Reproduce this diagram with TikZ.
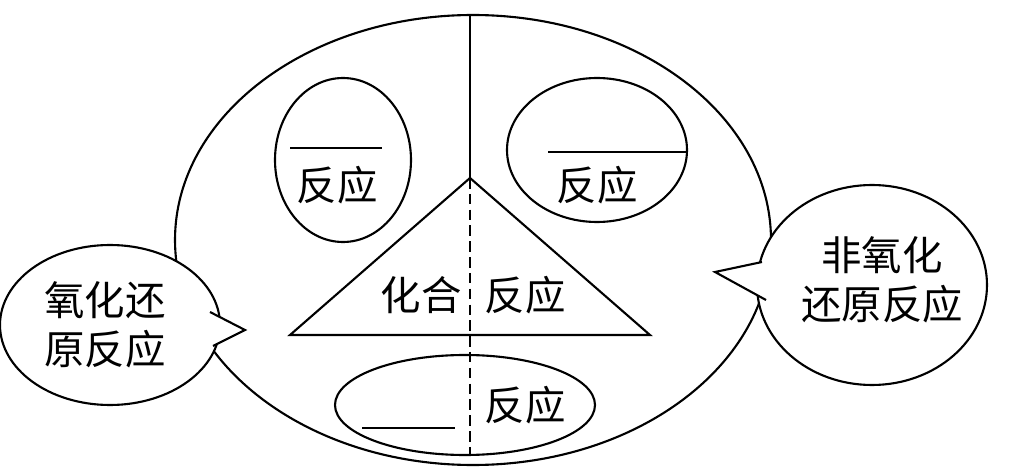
\documentclass[tikz,border=0pt]{standalone}
\usepackage{fontspec}
\setmainfont{Noto Sans CJK SC}
\usepackage{tikz}

\begin{document}
\begin{tikzpicture}[x=0.02cm,y=-0.02cm,
		line width=1.2pt,
		% 统一文字样式
		word/.style={font=\fontsize{23}{28}\selectfont, align=center, inner sep=0pt},
		blank/.style={line width=1pt}
		]
		\useasboundingbox (0,0) rectangle (1019,473);
		
		% ----- 1. 大椭圆与分界线 -----
		\draw (473,240) ellipse [x radius=298, y radius=225];
		\coordinate (Top) at (470,15);
		\coordinate (Apex) at (470,178);
		\coordinate (Bottom) at (470,455);
		\draw (Top) -- (Apex);
		\draw[dash pattern=on 6pt off 3pt] (Apex) -- (Bottom);
		
		% ----- 2. 三角形 -----
		\coordinate (L) at (290,335);
		\coordinate (R) at (650,335);
		\draw (Apex) -- (L) -- (R) -- cycle;
		\node[word] (hh) at (421,295) {化合};
		\node[word] (hhfy) at (525,295) {反应};
		
		% ----- 3. 三个小椭圆 -----
		\draw (343,160) ellipse [x radius=68, y radius=82];
		\draw[blank] (290,148) -- (382,148);
		\node[word] (fy1) at (337,185) {反应};
		
		\draw (597,150) ellipse [x radius=90, y radius=72];
		\draw[blank] (548,152) -- (686,152);
		\node[word] (fy2) at (597,185) {反应};
		
		\draw (465,405) ellipse [x radius=130, y radius=50];
		\draw[blank] (362,428) -- (455,428);
		\node[word] (fy3) at (525,405) {反应};
		
		% ----- 4. 两个对话泡 -----
		\draw[fill=white] (110,325) ellipse [x radius=110, y radius=80];
		\fill[white] (210,312) -- (245,330) -- (213,346) -- cycle;
		\draw (210,312) -- (245,330) -- (213,346);
		\node[word] (redox) at (105,325) {氧化还\\原反应};
		
		\draw[fill=white] (872,285) ellipse [x radius=115, y radius=100];
		\fill[white] (762,262) -- (715,272) -- (766,300) -- cycle;
		\draw (762,262) -- (715,272) -- (766,300);
		\node[word] (nonredox) at (882,280) {非氧化\\还原反应};
		
	\end{tikzpicture}
\end{document}
